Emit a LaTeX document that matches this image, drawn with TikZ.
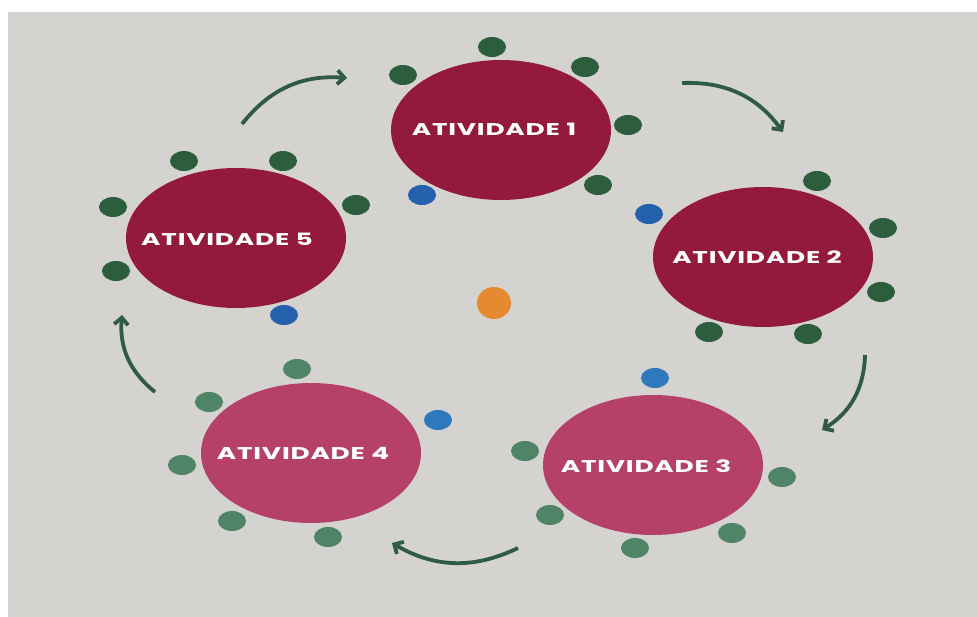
\documentclass[tikz,border=0pt]{standalone}
\usepackage{fontspec}
\newfontfamily\actfont{Poppins}[LetterSpace=3]
\usetikzlibrary{shapes.geometric, arrows.meta}
\definecolor{bggrey}{HTML}{D5D3CF}
\definecolor{wine}{HTML}{931A3C}
\definecolor{rose}{HTML}{B5416A}
\definecolor{darkgreen}{HTML}{2C5E3E}
\definecolor{softgreen}{HTML}{4F8466}
\definecolor{dotblue}{HTML}{2460AC}
\definecolor{softblue}{HTML}{2F78BC}
\definecolor{dotorange}{HTML}{E58A2E}
\definecolor{arrowgreen}{HTML}{2F5A48}
\tikzset{
    activity/.style={ellipse, minimum width=220pt, minimum height=140pt, inner sep=0pt},
    actlabel/.style={text=white, inner sep=0pt, xscale=1.55, transform shape,
        font=\actfont\bfseries\fontsize{17}{20}\selectfont},
    dot/.style={ellipse, minimum width=28pt, minimum height=20pt, inner sep=0pt},
    cyclearrow/.style={line width=3.8pt, draw=arrowgreen, bend left=28,
        -{Straight Barb[length=7pt,width=14pt]}}
}

\begin{document}
\begin{tikzpicture}[x=1pt, y=-1pt]
    \fill[white] (0,0) rectangle (977,617);
    \fill[bggrey] (8,12) rectangle (977,617);
    \useasboundingbox (0,0) rectangle (977,617);

    % activities
    \node[activity, fill=wine] (act1) at (501,130) {};
    \node[activity, fill=wine] (act2) at (763,257) {};
    \node[activity, fill=rose] (act3) at (653,465) {};
    \node[activity, fill=rose] (act4) at (311,453) {};
    \node[activity, fill=wine] (act5) at (236,238) {};
    \node[actlabel] (lbl1) at (494,129) {ATIVIDADE 1};
    \node[actlabel] (lbl2) at (757,257) {ATIVIDADE 2};
    \node[actlabel] (lbl3) at (646,466) {ATIVIDADE 3};
    \node[actlabel] (lbl4) at (303,453) {ATIVIDADE 4};
    \node[actlabel] (lbl5) at (227,239) {ATIVIDADE 5};

    % dots
    \foreach \p [count=\i] in {(492,47), (403,75), (585,67), (628,125), (598,185)}
        \node[dot, fill=darkgreen] (ga\i) at \p {};
    \foreach \p [count=\i] in {(817,181), (883,228), (881,292), (709,332), (808,334)}
        \node[dot, fill=darkgreen] (gb\i) at \p {};
    \foreach \p [count=\i] in {(525,451), (782,477), (550,515), (732,533), (635,548)}
        \node[dot, fill=softgreen] (gc\i) at \p {};
    \foreach \p [count=\i] in {(297,369), (209,402), (182,465), (232,521), (328,537)}
        \node[dot, fill=softgreen] (gd\i) at \p {};
    \foreach \p [count=\i] in {(184,161), (283,161), (356,205), (113,207), (116,271)}
        \node[dot, fill=darkgreen] (ge\i) at \p {};
    \node[dot, fill=dotblue] (ba) at (422,195) {};
    \node[dot, fill=dotblue] (bb) at (649,214) {};
    \node[dot, fill=softblue] (bc) at (655,378) {};
    \node[dot, fill=softblue] (bd) at (438,420) {};
    \node[dot, fill=dotblue] (be) at (284,315) {};
    \node[ellipse, minimum width=34pt, minimum height=32pt, inner sep=0pt, fill=dotorange] (hub) at (494,303) {};

    % cycle arrows
    \coordinate (s1) at (242,124); \coordinate (e1) at (347,78);
    \coordinate (s2) at (682,83);  \coordinate (e2) at (783,132);
    \coordinate (s3) at (865,355); \coordinate (e3) at (822,430);
    \coordinate (s4) at (518,548); \coordinate (e4) at (392,543);
    \coordinate (s5) at (155,392); \coordinate (e5) at (122,315);
    \draw[cyclearrow] (s1) to (e1);
    \draw[cyclearrow] (s2) to (e2);
    \draw[cyclearrow] (s3) to (e3);
    \draw[cyclearrow] (s4) to (e4);
    \draw[cyclearrow] (s5) to (e5);
\end{tikzpicture}
\end{document}
